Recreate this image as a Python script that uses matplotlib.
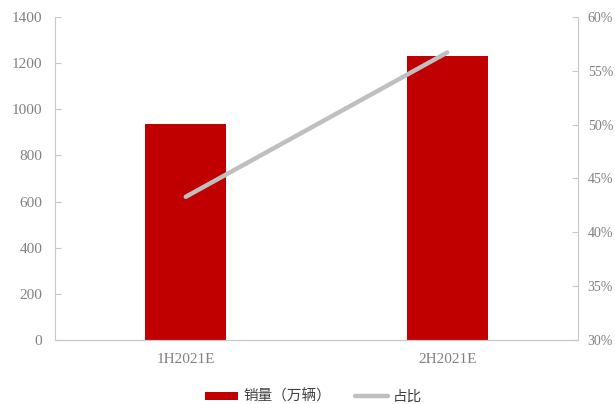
import matplotlib
matplotlib.use("Agg")
import matplotlib.pyplot as plt
from matplotlib.ticker import FuncFormatter, MultipleLocator

categories = ["1H2021E", "2H2021E"]
sales = [937, 1232]          # 销量（万辆）
share = [0.433, 0.567]       # 占比

plt.rcParams['font.family'] = ['Liberation Serif', 'Noto Sans CJK SC', 'DejaVu Sans']

fig = plt.figure(figsize=(6.15, 4.04), dpi=100)
ax = fig.add_axes([0.0894, 0.1584, 0.8504, 0.7996])
ax2 = ax.twinx()

x = list(range(len(categories)))
bars = ax.bar(x, sales, width=0.31, color="#C00000", label="销量（万辆）", zorder=2)
line, = ax2.plot(x, share, color="#BFBFBF", lw=3.2, solid_capstyle="round", label="占比", zorder=3)

ax.set_xlim(-0.5, 1.5)
ax.set_ylim(0, 1400)
ax.yaxis.set_major_locator(MultipleLocator(200))
ax2.set_ylim(0.30, 0.60)
ax2.yaxis.set_major_locator(MultipleLocator(0.05))
ax2.yaxis.set_major_formatter(FuncFormatter(lambda v, p: f"{v*100:.0f}%"))
ax.set_xticks(x)
ax.set_xticklabels(categories)

txt = "#808080"
sp = "#C8C8C8"
for a in (ax, ax2):
    for s in a.spines.values():
        s.set_color(sp)
    a.spines['top'].set_visible(False)
ax.spines['right'].set_visible(False)
ax2.spines['left'].set_visible(False)
ax.tick_params(axis='y', direction='in', length=4, color=sp, labelcolor=txt, labelsize=11, pad=9)
ax2.tick_params(axis='y', direction='in', length=4, color=sp, labelcolor=txt, labelsize=10, pad=7)
ax.tick_params(axis='x', length=0, labelcolor=txt, labelsize=11, pad=9)

ax2.set_zorder(ax.get_zorder() + 1)
ax2.patch.set_visible(False)

leg = fig.legend([bars, line], ["销量（万辆）", "占比"], loc="center", bbox_to_anchor=(0.51, 0.018),
                 ncol=2, frameon=False, fontsize=10.5, handlelength=2.3, handleheight=0.5,
                 columnspacing=1.6, handletextpad=0.35, labelcolor="#404040")
fig.savefig("out.png", dpi=100)
